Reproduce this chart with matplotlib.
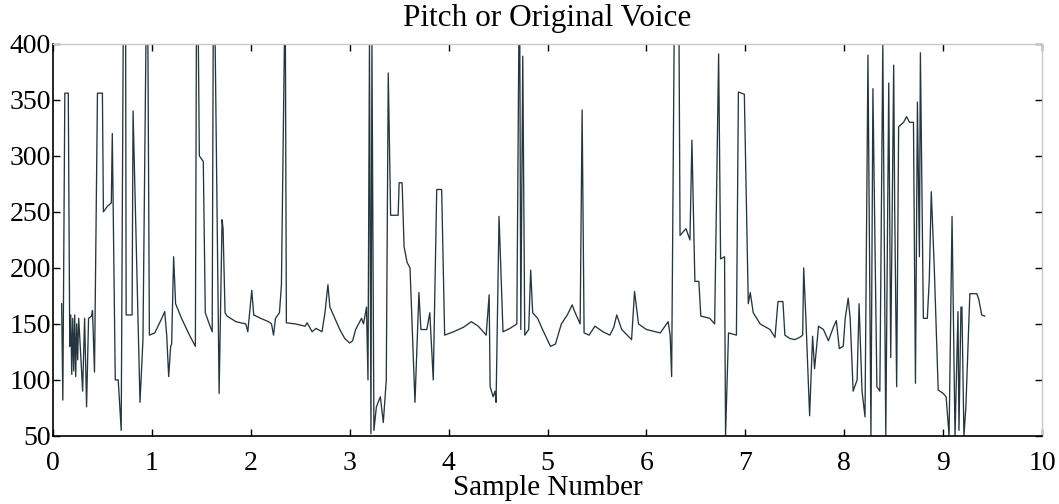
import matplotlib
matplotlib.use("Agg")
import matplotlib.pyplot as plt

plt.rcParams['font.family'] = ['Liberation Serif', 'DejaVu Serif']

title = "Pitch or Original Voice"
xlabel = "Sample Number"
xticks = list(range(0, 11))
yticks = [50, 100, 150, 200, 250, 300, 350, 400]

sample_x = [
    0.088, 0.10, 0.12, 0.155, 0.17, 0.18, 0.19, 0.20, 0.21, 0.22, 0.23, 0.24, 0.25, 0.26, 0.27,
    0.30, 0.32, 0.34, 0.36, 0.39, 0.40, 0.42, 0.45, 0.50, 0.51, 0.55, 0.59, 0.60, 0.63, 0.66,
    0.69, 0.71, 0.735, 0.74, 0.80, 0.81, 0.88, 0.91, 0.94, 0.96, 0.975, 1.03, 1.10, 1.13, 1.15,
    1.17, 1.19, 1.20, 1.22, 1.24, 1.30, 1.38, 1.44, 1.45, 1.47, 1.48, 1.52, 1.54, 1.58, 1.61,
    1.62, 1.64, 1.68, 1.71, 1.72, 1.74, 1.76, 1.85, 1.95, 1.97, 1.98, 2.01, 2.03, 2.10, 2.18,
    2.21, 2.23, 2.25, 2.29, 2.31, 2.34, 2.35, 2.36, 2.45, 2.55, 2.57, 2.62, 2.66, 2.72, 2.75,
    2.78, 2.80, 2.85, 2.90, 2.95, 3.00, 3.03, 3.06, 3.09, 3.12, 3.14, 3.17, 3.185, 3.20, 3.215,
    3.225, 3.245, 3.27, 3.31, 3.34, 3.37, 3.39, 3.414, 3.49, 3.50, 3.53, 3.55, 3.58, 3.61, 3.66,
    3.70, 3.72, 3.78, 3.81, 3.845, 3.88, 3.93, 3.96, 4.05, 4.15, 4.23, 4.30, 4.38, 4.41, 4.42,
    4.45, 4.47, 4.48, 4.51, 4.55, 4.62, 4.69, 4.71, 4.72, 4.73, 4.75, 4.77, 4.81, 4.83, 4.85,
    4.90, 4.95, 5.03, 5.08, 5.14, 5.20, 5.25, 5.27, 5.33, 5.35, 5.37, 5.42, 5.48, 5.56, 5.63,
    5.67, 5.70, 5.75, 5.85, 5.88, 5.92, 6.00, 6.14, 6.22, 6.24, 6.255, 6.28, 6.33, 6.34, 6.40,
    6.44, 6.46, 6.49, 6.53, 6.55, 6.64, 6.69, 6.73, 6.75, 6.79, 6.80, 6.83, 6.91, 6.93, 6.99,
    7.03, 7.05, 7.08, 7.15, 7.25, 7.30, 7.33, 7.38, 7.40, 7.45, 7.50, 7.55, 7.58, 7.59, 7.61,
    7.65, 7.68, 7.70, 7.74, 7.79, 7.84, 7.89, 7.92, 7.95, 7.99, 8.01, 8.04, 8.06, 8.09, 8.13,
    8.15, 8.18, 8.21, 8.24, 8.27, 8.29, 8.33, 8.36, 8.39, 8.42, 8.45, 8.47, 8.50, 8.51, 8.53,
    8.55, 8.60, 8.63, 8.66, 8.70, 8.72, 8.74, 8.76, 8.77, 8.80, 8.84, 8.86, 8.88, 8.91, 8.95,
    9.00, 9.03, 9.06, 9.09, 9.12, 9.15, 9.16, 9.18, 9.19, 9.21, 9.23, 9.27, 9.34, 9.36, 9.39,
    9.42,
]

pitch = [
    168, 82, 356, 356, 130, 158, 105, 155, 108, 158, 103, 150, 118, 155, 140,
    90, 155, 76, 155, 157, 162, 107, 356, 356, 250, 255, 258, 320, 100, 100,
    55, 400, 400, 158, 158, 340, 80, 136, 400, 400, 140, 142, 155, 161, 140,
    103, 130, 132, 210, 168, 155, 140, 130, 400, 400, 300, 295, 160, 150, 143,
    400, 400, 88, 243, 235, 160, 157, 152, 150, 143, 152, 180, 158, 155, 152,
    150, 140, 155, 160, 185, 400, 400, 151, 150, 148, 151, 143, 146, 143, 160,
    185, 165, 155, 145, 137, 133, 135, 145, 150, 155, 150, 165, 100, 400, 52,
    400, 55, 76, 85, 62, 100, 374, 247, 247, 276, 276, 219, 205, 200, 80,
    178, 145, 145, 160, 100, 270, 270, 140, 143, 147, 152, 148, 140, 176, 94,
    85, 90, 80, 246, 143, 146, 150, 400, 400, 145, 389, 140, 145, 198, 160,
    155, 145, 130, 132, 150, 158, 167, 162, 150, 341, 142, 140, 148, 143, 140,
    147, 158, 145, 136, 179, 150, 145, 142, 152, 140, 103, 400, 400, 229, 235,
    225, 314, 188, 188, 157, 155, 150, 391, 208, 210, 50, 142, 140, 357, 355,
    168, 178, 160, 150, 145, 138, 170, 170, 140, 137, 136, 138, 140, 200, 160,
    68, 139, 110, 148, 145, 135, 147, 153, 128, 130, 155, 173, 155, 90, 100,
    168, 90, 67, 390, 50, 360, 94, 90, 400, 50, 365, 120, 381, 254, 94,
    326, 330, 335, 330, 330, 97, 348, 210, 392, 155, 155, 190, 268, 201, 91,
    88, 85, 50, 246, 50, 161, 55, 165, 165, 50, 76, 177, 177, 172, 158,
    157,
]

fig = plt.figure(figsize=(10.59, 5.04), dpi=100)
ax = fig.add_axes([0.050, 0.135, 0.934, 0.778])
ax.plot(sample_x, pitch, color='#26363f', linewidth=0.95)

ax.set_xlim(0, 10)
ax.set_ylim(50, 400)
ax.set_xticks(xticks)
ax.set_yticks(yticks)
ax.tick_params(direction='in', top=True, right=True, length=5, width=1,
               labelsize=20, colors='black')
ax.tick_params(axis='y', pad=1.5)
ax.tick_params(axis='x', pad=11)
for side in ['left', 'bottom']:
    ax.spines[side].set_color('black')
    ax.spines[side].set_linewidth(1.2)
for side in ['top', 'right']:
    ax.spines[side].set_color('#c8c8c8')
    ax.spines[side].set_linewidth(1.0)

ax.set_title(title, fontsize=22.5, pad=13)
ax.set_xlabel(xlabel, fontsize=21, labelpad=-1)

fig.savefig('out.png', dpi=100)
